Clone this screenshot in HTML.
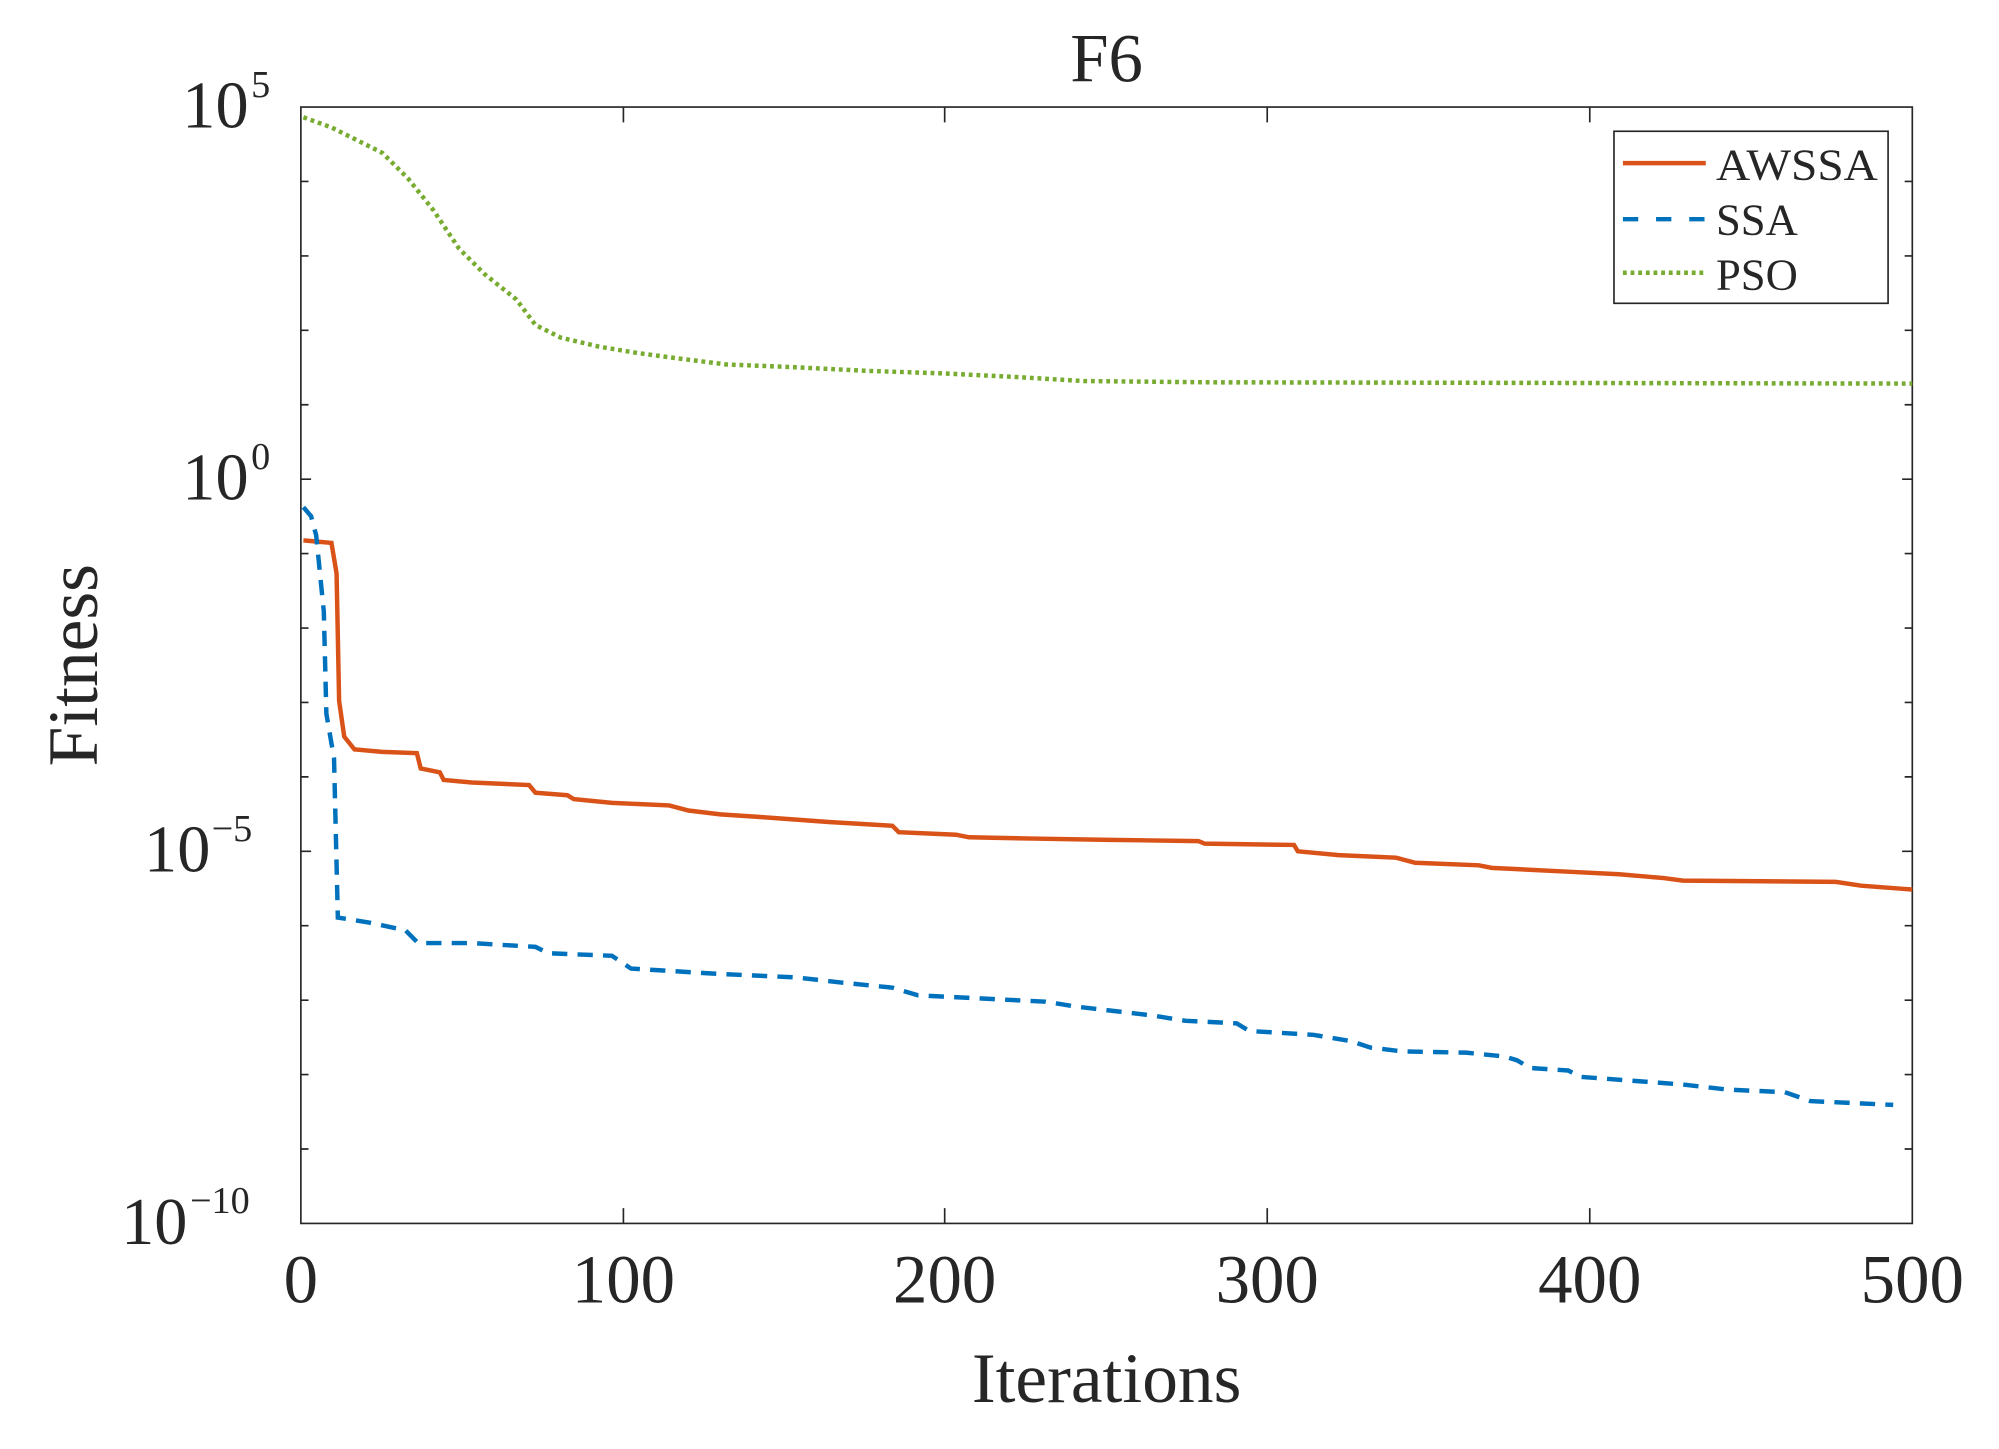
<!DOCTYPE html>
<html><head><meta charset="utf-8"><style>html,body{margin:0;padding:0;background:#fff}svg{display:block}</style></head>
<body>
<svg width="1999" height="1449" viewBox="0 0 1568 1137" preserveAspectRatio="none" xmlns="http://www.w3.org/2000/svg" font-family="Liberation Serif, serif" fill="#262626">
<rect x="0" y="0" width="1568" height="1137" fill="#fff"/>
<g stroke="#262626" stroke-width="1.3" fill="none">
<rect x="236" y="84" width="1264" height="876"/>
<path d="M489,960v-12M741,960v-12M994,960v-12M1247,960v-12M489,84v12M741,84v12M994,84v12M1247,84v12"/>
<path d="M236,142.4h6M236,200.8h6M236,259.2h6M236,317.6h6M236,376h8M236,434.4h6M236,492.8h6M236,551.2h6M236,609.6h6M236,668h8M236,726.4h6M236,784.8h6M236,843.2h6M236,901.6h6
M1500,142.4h-6M1500,200.8h-6M1500,259.2h-6M1500,317.6h-6M1500,376h-8M1500,434.4h-6M1500,492.8h-6M1500,551.2h-6M1500,609.6h-6M1500,668h-8M1500,726.4h-6M1500,784.8h-6M1500,843.2h-6M1500,901.6h-6"/>
</g>
<polyline fill="none" stroke="#77AC30" stroke-width="3.5" stroke-dasharray="3,3" points="238,92 260,100 300,120 320,140 340,165 360,195 380,215 405,235 420,255 440,265 470,272 500,277 530,281 570,286 620,288 680,291 740,293 800,296 850,299 950,300 1500,301"/>
<polyline fill="none" stroke="#D95319" stroke-width="3.5" points="238,424 260,426 264,450 266,550 270,578 278,588 300,590 327,591 330,603 345,606 348,612 370,614 415,616 420,622 445,624 450,627 480,630 525,632 540,636 565,639 595,641 650,645 700,648 705,653 750,655 760,657 810,658 870,659 940,660 945,662 1015,663 1018,668 1050,671 1095,673 1110,677 1160,679 1170,681 1230,684 1270,686 1305,689 1320,691 1440,692 1460,695 1500,698"/>
<polyline fill="none" stroke="#0072BD" stroke-width="3.5" stroke-dasharray="12,8" points="238,398 244,405 248,420 254,480 256,560 262,595 265,720 290,724 318,730 328,740 370,740 420,743 430,748 480,750 495,760 560,764 625,767 660,771 700,775 720,781 780,784 820,786 845,790 880,794 905,797 930,801 970,803 980,809 1030,812 1060,817 1075,822 1100,825 1150,826 1180,829 1190,832 1200,838 1230,840 1240,845 1280,848 1320,851 1355,855 1400,857 1420,864 1485,867"/>
<rect x="1266" y="103" width="215" height="135" fill="#fff" stroke="#262626" stroke-width="1.3"/>
<line x1="1273" y1="128" x2="1338" y2="128" stroke="#D95319" stroke-width="3.5"/>
<line x1="1273" y1="172" x2="1338" y2="172" stroke="#0072BD" stroke-width="3.5" stroke-dasharray="12,14"/>
<line x1="1273" y1="214" x2="1338" y2="214" stroke="#77AC30" stroke-width="3.5" stroke-dasharray="3,3"/>
<g font-size="35"><text x="1346" y="141" textLength="127" lengthAdjust="spacingAndGlyphs">AWSSA</text><text x="1346" y="184">SSA</text><text x="1346" y="227">PSO</text></g>
<g font-size="54" text-anchor="middle"><text x="236" y="1022">0</text><text x="489" y="1022">100</text><text x="741" y="1022">200</text><text x="994" y="1022">300</text><text x="1247" y="1022">400</text><text x="1500" y="1022">500</text></g>
<g font-size="52">
<text x="143" y="100">10</text><text x="197" y="76" font-size="30">5</text>
<text x="143" y="392">10</text><text x="197" y="368" font-size="30">0</text>
<text x="113" y="684">10</text><text x="166" y="660" font-size="30">−5</text>
<text x="95" y="976">10</text><text x="149" y="952" font-size="30">−10</text>
</g>
<text x="868" y="64" font-size="54" text-anchor="middle">F6</text>
<text x="868" y="1100" font-size="56" text-anchor="middle">Iterations</text>
<text transform="translate(76,522) rotate(-90)" font-size="56" text-anchor="middle">Fitness</text>
</svg>
</body></html>
